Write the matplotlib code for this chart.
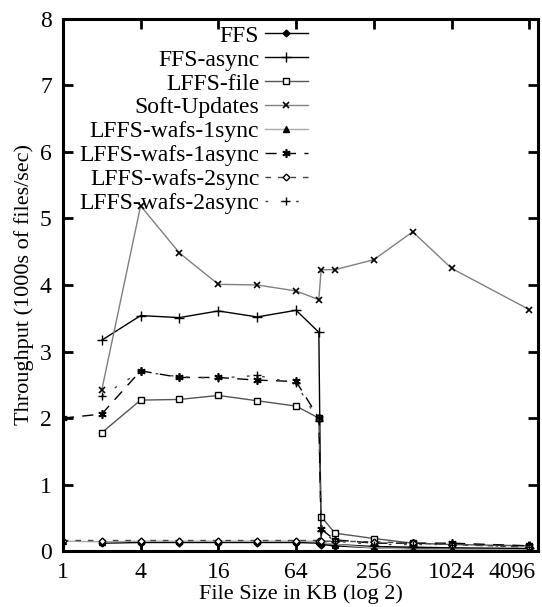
import numpy as np
import matplotlib as mpl
mpl.use('Agg')
import matplotlib.pyplot as plt
from matplotlib.transforms import ScaledTranslation

# data (file size in KB, throughput in 1000s of files/sec)
sizes = [1, 2, 4, 8, 16, 32, 64, 96, 100, 128, 256, 512, 1024, 4096]
nan = np.nan
ffs = [nan, 0.12, 0.13, 0.13, 0.13, 0.13, 0.13, 0.12, 0.10, 0.08, 0.05, 0.04, 0.04, 0.03]
ffs_async = [nan, 3.17, 3.54, 3.51, 3.61, 3.52, 3.62, 3.29, 0.12, 0.10, 0.07, 0.06, 0.05, 0.04]
lffs_file = [nan, 1.78, 2.27, 2.28, 2.34, 2.26, 2.18, 2.00, 0.52, 0.27, 0.19, 0.12, 0.10, 0.08]
soft_updates = [nan, 2.42, 5.19, 4.48, 4.01, 4.00, 3.91, 3.78, 4.23, 4.23, 4.38, 4.80, 4.25, 3.63]
wafs_1sync = [0.15, 0.14, 0.15, 0.15, 0.15, 0.15, 0.15, 0.15, 0.13, 0.10, 0.05, 0.03, 0.03, 0.02]
wafs_1async = [2.00, 2.06, 2.71, 2.61, 2.61, 2.57, 2.55, 2.00, 0.33, 0.17, 0.12, 0.12, 0.12, 0.08]
wafs_2sync = [0.16, 0.16, 0.16, 0.16, 0.16, 0.16, 0.16, 0.16, 0.15, 0.15, 0.14, 0.12, 0.10, 0.06]
wafs_2async = [nan, 2.33, 2.70, 2.62, 2.60, 2.64, 2.52, 1.95, 0.30, 0.15, 0.10, 0.10, 0.10, 0.06]

xticks = [1, 4, 16, 64, 256, 1024, 4096]

plt.rcParams['font.family'] = ['Liberation Serif', 'DejaVu Serif']
fs = 17

fig = plt.figure(figsize=(5.42, 6.07), dpi=100)
ax = fig.add_axes([0.116, 0.092, 0.877, 0.877])

gray = '#808080'
ms = 5
ax.plot(sizes, ffs, color='black', lw=1.0, marker='D', ms=3.5, mfc='black', label='FFS')
ax.plot(sizes, ffs_async, color='black', lw=1.0, marker='+', ms=7, mew=1.0, mec='black', label='FFS-async')
ax.plot(sizes, lffs_file, color='#555555', lw=1.0, marker='s', ms=ms, mfc='white', mec='black', mew=1.0, label='LFFS-file')
ax.plot(sizes, soft_updates, color=gray, lw=1.0, marker='x', ms=ms, mec='black', mew=1.2, label='Soft-Updates')
ax.plot(sizes, wafs_1sync, color='#aaaaaa', lw=1.0, marker='^', ms=ms, mfc='black', mec='black', label='LFFS-wafs-1sync')
ax.plot(sizes, wafs_1async, color='black', lw=1.0, dashes=(8, 6), marker=(6, 2, 0), ms=6, mec='black', mew=1.2, label='LFFS-wafs-1async')
ax.plot(sizes, wafs_2sync, color='#444444', lw=1.0, dashes=(4, 5), marker='D', ms=3.5, mfc='white', mec='black', label='LFFS-wafs-2sync')
ax.plot(sizes, wafs_2async, color='#444444', lw=1.0, dashes=(2, 9), marker='+', ms=6, mec='black', mew=1.0, label='LFFS-wafs-2async')

ax.set_xscale('log', base=2)
ax.set_xlim(1, 4800)
ax.set_ylim(0, 8)
ax.set_xticks(xticks)
ax.set_xticklabels([str(t) for t in xticks])
ax.xaxis.set_minor_locator(mpl.ticker.NullLocator())
ax.set_yticks(range(9))

ax.tick_params(direction='in', length=7, width=2, top=True, right=True, labelsize=fs)
ax.tick_params(axis='x', pad=8)
ax.tick_params(axis='y', pad=8)
for s in ax.spines.values():
    s.set_linewidth(2.2)

# last x label is pulled left so it stays inside the figure
lab = ax.get_xticklabels()[-1]
lab.set_transform(lab.get_transform() + ScaledTranslation(-17 / 100, 0, fig.dpi_scale_trans))

ax.set_xlabel('File Size in KB (log 2)', fontsize=16, labelpad=1)
ax.set_ylabel('Throughput (1000s of files/sec)', fontsize=16, labelpad=4)

ax.legend(loc='upper right', bbox_to_anchor=(0.515, 0.988), frameon=False, markerfirst=False,
          fontsize=fs, handlelength=1.8, labelspacing=0.1, borderpad=0, borderaxespad=0,
          handletextpad=0.25)

fig.savefig('out.png', dpi=100)
